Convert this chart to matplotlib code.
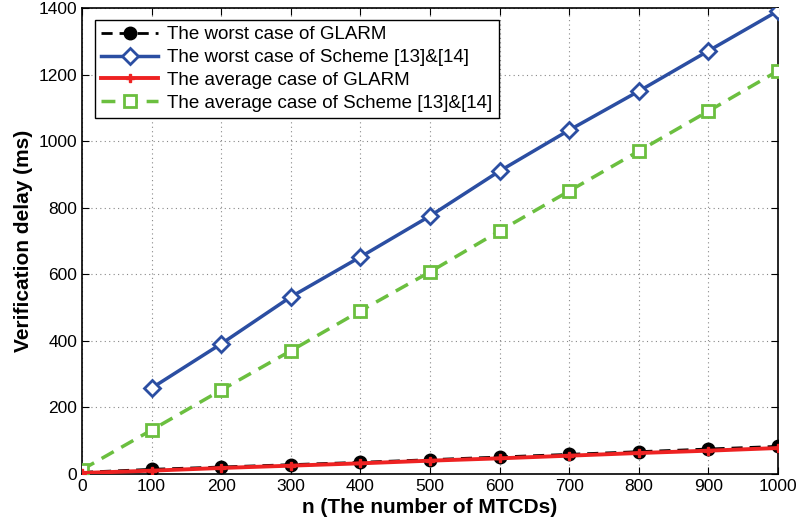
import matplotlib
matplotlib.use("Agg")
import matplotlib.pyplot as plt

plt.rcParams["font.family"] = ["Liberation Sans", "DejaVu Sans"]

n_all = [0, 100, 200, 300, 400, 500, 600, 700, 800, 900, 1000]
n_scheme_worst = [100, 200, 300, 400, 500, 600, 700, 800, 900, 1000]

glarm_worst = [5, 14, 21, 28, 35, 43, 51, 59, 67, 75, 83]
scheme_worst = [258, 391, 532, 652, 775, 910, 1033, 1150, 1271, 1391]
glarm_avg = [3, 10, 18, 25, 32, 40, 47, 55, 63, 70, 78]
scheme_avg = [13, 132, 252, 370, 490, 607, 730, 850, 970, 1090, 1211]

BLUE = "#2b4ea2"
GREEN = "#6bbf3f"
RED = "#ee2222"

fig = plt.figure(figsize=(8, 5.29), dpi=100)
ax = fig.add_axes([0.1025, 0.104, 0.87, 0.881])

ax.plot(n_all, glarm_worst, color="black", linestyle=(0, (4, 2.5)), linewidth=2,
        marker="o", markersize=9, markerfacecolor="black", markeredgecolor="black",
        label="The worst case of GLARM", zorder=3)
ax.plot(n_scheme_worst, scheme_worst, color=BLUE, linewidth=2.5,
        marker="D", markersize=8.5, markerfacecolor="white", markeredgecolor=BLUE,
        markeredgewidth=2, label="The worst case of Scheme [13]&[14]", zorder=3)
ax.plot(n_all, glarm_avg, color=RED, linewidth=2.8,
        marker="P", markersize=6, markerfacecolor=RED, markeredgecolor=RED,
        label="The average case of GLARM", zorder=4)
ax.plot(n_all, scheme_avg, color=GREEN, linestyle=(0, (4, 2.5)), linewidth=2.5,
        marker="s", markersize=8.5, markerfacecolor="white", markeredgecolor=GREEN,
        markeredgewidth=2, label="The average case of Scheme [13]&[14]", zorder=3)

ax.set_xlim(0, 1000)
ax.set_ylim(0, 1400)
ax.set_xticks(range(0, 1001, 100))
ax.set_yticks(range(0, 1401, 200))
ax.grid(True, linestyle=(0, (1, 3)), color="#888888", linewidth=0.8)
ax.tick_params(direction="in", labelsize=12.5, length=5, top=True, right=True)
for side in ax.spines.values():
    side.set_linewidth(1.2)

ax.set_xlabel("n (The number of MTCDs)", fontsize=15, fontweight="bold", labelpad=3)
ax.set_ylabel("Verification delay (ms)", fontsize=15, fontweight="bold", labelpad=4)

leg = ax.legend(loc="upper left", fontsize=13.5, fancybox=False, framealpha=1,
                edgecolor="black", handlelength=3, borderpad=0.35, labelspacing=0.3,
                handletextpad=0.5, bbox_to_anchor=(0.005, 0.995))
leg.get_frame().set_linewidth(1)

fig.savefig("out.png", dpi=100, facecolor="white")
